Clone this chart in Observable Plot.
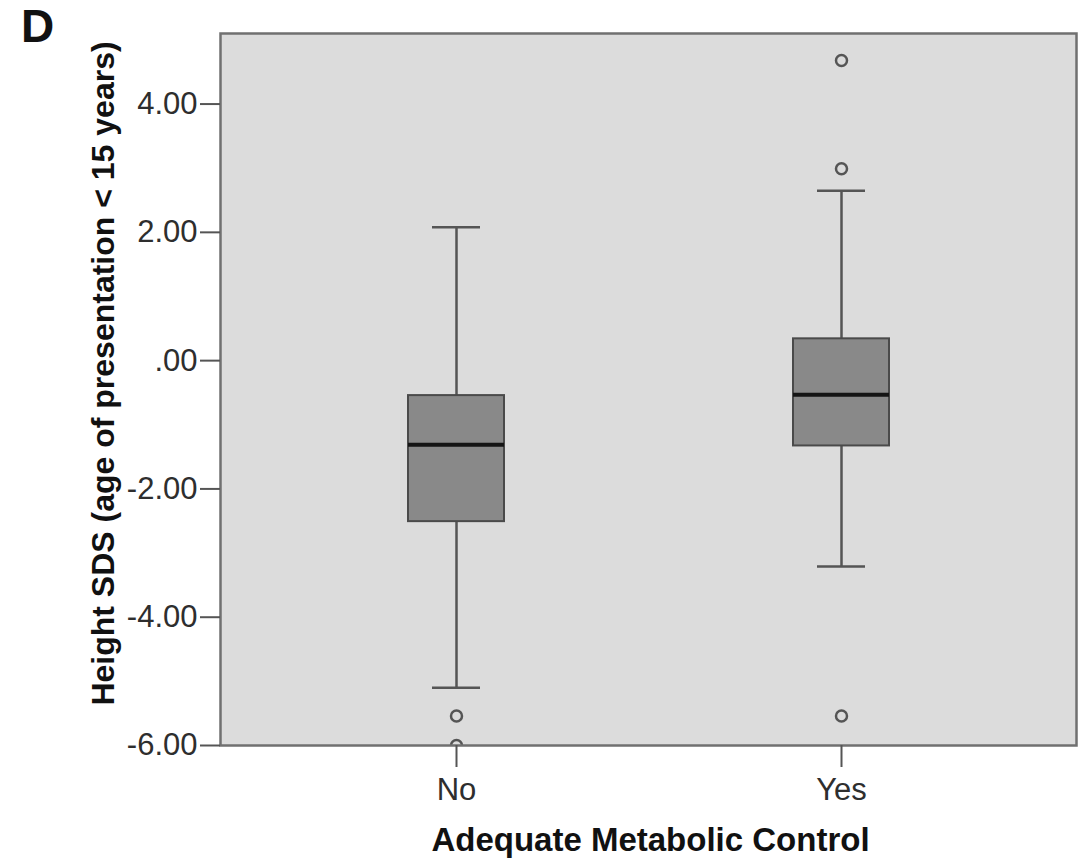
<!DOCTYPE html>
<html>
<head>
<meta charset="utf-8">
<script src="https://cdn.jsdelivr.net/npm/d3@7"></script>
<script src="https://cdn.jsdelivr.net/npm/@observablehq/plot@0.6"></script>
<style>
  html, body { margin: 0; padding: 0; background: #fff; }
  #wrap { position: relative; width: 1079px; height: 859px; }
  #panel { position: absolute; left: 21px; top: -1px; font: bold 46px "Liberation Sans", Arial, sans-serif; color: #111; }
</style>
</head>
<body>
<div id="wrap">
  <div id="panel">D</div>
  <div id="chart"></div>
</div>
<script>
// Height SDS summaries by metabolic control group (age of presentation < 15 years)
const groups = ["No", "Yes"];
const whiskerLow = [-5.10, -3.21];
const q1 = [-2.51, -1.33];
const median = [-1.31, -0.53];
const q3 = [-0.545, 0.34];
const whiskerHigh = [2.08, 2.65];

// Individual outlying cases
const outlierGroup = ["No", "No", "Yes", "Yes", "Yes"];
const outlierValue = [-5.54, -6.0, 4.68, 2.99, -5.54];

const yTicks = [-6, -4, -2, 0, 2, 4];

const boxes = groups.map((g, i) => ({
  group: g, low: whiskerLow[i], q1: q1[i], median: median[i], q3: q3[i], high: whiskerHigh[i]
}));
const outliers = outlierGroup.map((g, i) => ({group: g, value: outlierValue[i]}));

const fmt = v => v === 0 ? ".00" : v.toFixed(2);
const font = '"Liberation Sans", Arial, sans-serif';

const chart = Plot.plot({
  width: 1079,
  height: 859,
  marginLeft: 220,
  marginRight: 3,
  marginTop: 33,
  marginBottom: 114,
  style: {fontFamily: font, fontSize: "31px", color: "#333", background: "transparent"},
  x: {type: "band", domain: groups, paddingInner: 0.751, paddingOuter: 0.4845},
  y: {domain: [-6, 5.1]},
  marks: [
    Plot.frame({fill: "#dcdcdc", stroke: "none"}),
    // whiskers
    Plot.ruleX(boxes, {x: "group", y1: "low", y2: "q1", stroke: "#555", strokeWidth: 2.5}),
    Plot.ruleX(boxes, {x: "group", y1: "q3", y2: "high", stroke: "#555", strokeWidth: 2.5}),
    Plot.tickY(boxes, {x: "group", y: "low", stroke: "#555", strokeWidth: 2.5, insetLeft: 24, insetRight: 24}),
    Plot.tickY(boxes, {x: "group", y: "high", stroke: "#555", strokeWidth: 2.5, insetLeft: 24, insetRight: 24}),
    // interquartile boxes
    Plot.barY(boxes, {x: "group", y1: "q1", y2: "q3", fill: "#898989", stroke: "#4a4a4a", strokeWidth: 2}),
    Plot.tickY(boxes, {x: "group", y: "median", stroke: "#151515", strokeWidth: 4}),
    // outliers
    Plot.dot(outliers, {x: "group", y: "value", r: 5.5, stroke: "#555", strokeWidth: 2.5, fill: "none", clip: true}),
    Plot.frame({stroke: "#707070", strokeWidth: 2.5}),
    Plot.axisY({ticks: yTicks, tickFormat: fmt, tickSize: 20, tickPadding: 3, stroke: "#555", strokeWidth: 2, label: null, fill: "#2e2e2e"}),
    Plot.axisX({tickSize: 22, tickPadding: 10, stroke: "#555", strokeWidth: 2, label: null, fill: "#2e2e2e"}),
    // axis titles
    Plot.text(["Height SDS (age of presentation < 15 years)"], {
      frameAnchor: "left", dx: -117, dy: -16, rotate: -90,
      fontSize: 32, fontWeight: "bold", fill: "#111", textAnchor: "middle", lineAnchor: "middle"
    }),
    Plot.text(["Adequate Metabolic Control"], {
      frameAnchor: "bottom", dx: 2, dy: 95,
      fontSize: 33, fontWeight: "bold", fill: "#111", textAnchor: "middle", lineAnchor: "middle"
    })
  ]
});
document.getElementById("chart").appendChild(chart);
</script>
</body>
</html>
